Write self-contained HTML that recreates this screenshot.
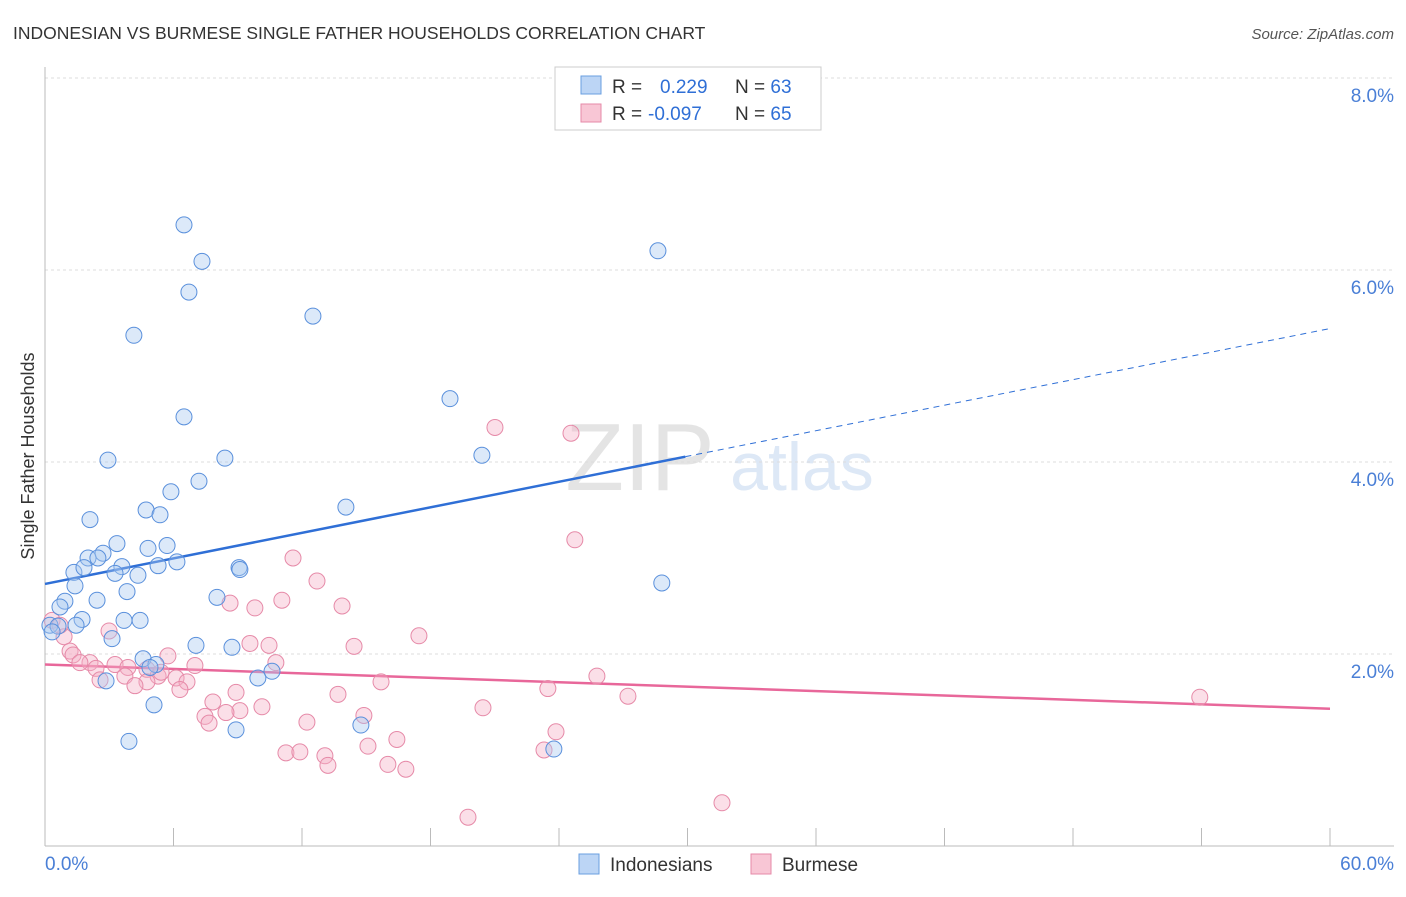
<!DOCTYPE html>
<html><head><meta charset="utf-8"><style>
body{margin:0;background:#fff;font-family:"Liberation Sans",sans-serif;}
svg text{font-family:"Liberation Sans",sans-serif;}
</style></head><body>
<svg id="chart" width="1406" height="892">
<text x="13" y="39" font-size="17.5" fill="#333">INDONESIAN VS BURMESE SINGLE FATHER HOUSEHOLDS CORRELATION CHART</text>
<text x="1394" y="39" font-size="15" fill="#555" font-style="italic" text-anchor="end">Source: ZipAtlas.com</text>
<text x="640" y="490" font-size="96" fill="#e4e4e4" font-family="Liberation Serif" text-anchor="middle">ZIP</text>
<text x="802" y="490" font-size="68" fill="#dde8f6" text-anchor="middle">atlas</text>
<g id="grid"></g><g id="axes"></g><g id="lines"></g><g id="pts"></g>
<text transform="translate(34,456) rotate(-90)" font-size="18" fill="#333" text-anchor="middle">Single Father Households</text>
<g>
<rect x="555" y="67" width="266" height="63" fill="#fff" stroke="#ccc"/>
<rect x="581" y="76" width="20" height="18" fill="#bcd5f5" stroke="#6a9fe0"/>
<rect x="581" y="104" width="20" height="18" fill="#f8c6d5" stroke="#e68aa8"/>
<text x="612" y="93" font-size="19" fill="#333">R = <tspan x="660" fill="#2f6fd6">0.229</tspan><tspan x="735" fill="#333">N = </tspan><tspan fill="#2f6fd6">63</tspan></text>
<text x="612" y="120" font-size="19" fill="#333">R = <tspan x="648" fill="#2f6fd6">-0.097</tspan><tspan x="735" fill="#333">N = </tspan><tspan fill="#2f6fd6">65</tspan></text>
</g>
<g>
<rect x="579" y="854" width="20" height="20" fill="#bcd5f5" stroke="#6a9fe0"/>
<text x="610" y="871" font-size="19" fill="#333">Indonesians</text>
<rect x="751" y="854" width="20" height="20" fill="#f8c6d5" stroke="#e68aa8"/>
<text x="782" y="871" font-size="19" fill="#333">Burmese</text>
</g>
</svg>
<script>
const xTicks=[0,6,12,18,24,30,36,42,48,54,60];
const yTicks=[2,4,6,8];
const blueX=[6.49,7.33,6.72,4.15,12.51,28.62,18.91,6.49,20.40,2.94,8.40,7.19,5.88,2.10,4.72,5.37,14.05,3.36,4.81,5.70,2.71,2.01,2.47,6.16,5.28,1.35,1.82,3.59,3.27,4.34,9.06,9.10,1.40,28.80,3.83,2.43,8.03,0.93,0.70,1.73,3.69,4.44,0.23,0.61,1.45,0.33,3.13,7.05,8.73,4.58,5.18,4.90,10.60,9.94,2.85,5.09,14.75,8.92,3.92,23.76];
const blueY=[6.47,6.09,5.77,5.32,5.52,6.20,4.66,4.47,4.07,4.02,4.04,3.80,3.69,3.40,3.50,3.45,3.53,3.15,3.10,3.13,3.05,3.00,3.00,2.96,2.92,2.85,2.90,2.91,2.84,2.82,2.90,2.88,2.71,2.74,2.65,2.56,2.59,2.55,2.49,2.36,2.35,2.35,2.30,2.29,2.30,2.23,2.16,2.09,2.07,1.95,1.89,1.86,1.82,1.75,1.72,1.47,1.26,1.21,1.09,1.01];
const pinkX=[21.01,24.56,24.74,11.58,12.70,8.64,9.80,11.06,13.87,17.46,2.99,9.57,10.46,14.43,0.33,0.89,1.17,1.31,2.10,2.38,3.27,3.87,4.76,5.74,7.00,10.78,5.28,5.42,3.73,4.76,6.12,6.63,4.20,6.30,8.92,15.69,25.77,23.48,27.22,13.68,7.84,10.13,20.45,9.10,7.47,7.66,8.45,12.23,14.89,23.86,15.08,11.25,11.90,13.07,13.21,16.43,16.01,16.85,23.30,31.61,19.75,53.92,2.57,1.63,0.70];
const pinkY=[4.36,4.30,3.19,3.00,2.76,2.53,2.48,2.56,2.50,2.19,2.24,2.11,2.09,2.08,2.35,2.18,2.03,1.99,1.91,1.85,1.89,1.86,1.84,1.98,1.88,1.91,1.77,1.81,1.77,1.71,1.75,1.71,1.67,1.63,1.60,1.71,1.77,1.64,1.56,1.58,1.50,1.45,1.44,1.41,1.35,1.28,1.39,1.29,1.36,1.19,1.04,0.97,0.98,0.94,0.84,1.11,0.85,0.80,1.00,0.45,0.30,1.55,1.73,1.91,2.30];
const blueTrend=[2.73,5.39];
const pinkTrend=[1.89,1.43];
const blueSolidEnd=29.9;
const NS='http://www.w3.org/2000/svg';
const sx=v=>45+v*(1330-45)/60;
const sy=v=>846-v*96;
function mk(tag,attrs,parent){const e=document.createElementNS(NS,tag);for(const k in attrs)e.setAttribute(k,attrs[k]);document.getElementById(parent).appendChild(e);return e;}
yTicks.forEach(t=>{
 const g=mk('line',{x1:45,x2:1394,y1:sy(t),y2:sy(t),stroke:'#ddd','stroke-dasharray':'3,3'},'grid');
 
 
 const l=mk('text',{x:1394,y:sy(t)+24,'font-size':19,fill:'#4a7fd6','text-anchor':'end'},'grid');
 l.textContent=t.toFixed(1)+'%';
 
 
});
const ax=mk('line',{x1:45,x2:1394,y1:846,y2:846,stroke:'#bbb'},'axes');


const ay=mk('line',{x1:45,x2:45,y1:67,y2:846,stroke:'#bbb'},'axes');


xTicks.forEach(t=>{
 const tk=mk('line',{x1:sx(t),x2:sx(t),y1:828,y2:846,stroke:'#bbb'},'axes');
 
 
});
[[0,'start',45],[60,'end',1394]].forEach(([t,a,x])=>{
 const l=mk('text',{x:x,y:870,'font-size':19,fill:'#4a7fd6','text-anchor':a},'axes');
 l.textContent=t.toFixed(1)+'%';
 
 
});
function pts(xs,ys,fill,stroke,name){xs.forEach((x,i)=>{
 const c=mk('circle',{cx:sx(x),cy:sy(ys[i]),r:8,fill:fill,'fill-opacity':0.4,stroke:stroke,'stroke-width':1},'pts');
 
 
});}
pts(pinkX,pinkY,'#f5b0c6','#e68aa8','burmese-point');
pts(blueX,blueY,'#a8c8f0','#5a90dc','indonesian-point');
const bt=v=>blueTrend[0]+(blueTrend[1]-blueTrend[0])*v/60;
const b1=mk('line',{x1:sx(0),y1:sy(bt(0)),x2:sx(blueSolidEnd),y2:sy(bt(blueSolidEnd)),stroke:'#2f6fd6','stroke-width':2.5},'lines');


const b2=mk('line',{x1:sx(blueSolidEnd),y1:sy(bt(blueSolidEnd)),x2:sx(60),y2:sy(bt(60)),stroke:'#2f6fd6','stroke-width':1,'stroke-dasharray':'6,5'},'lines');


const p1=mk('line',{x1:sx(0),y1:sy(pinkTrend[0]),x2:sx(60),y2:sy(pinkTrend[1]),stroke:'#e8679a','stroke-width':2.5},'lines');


</script>
</body></html>
